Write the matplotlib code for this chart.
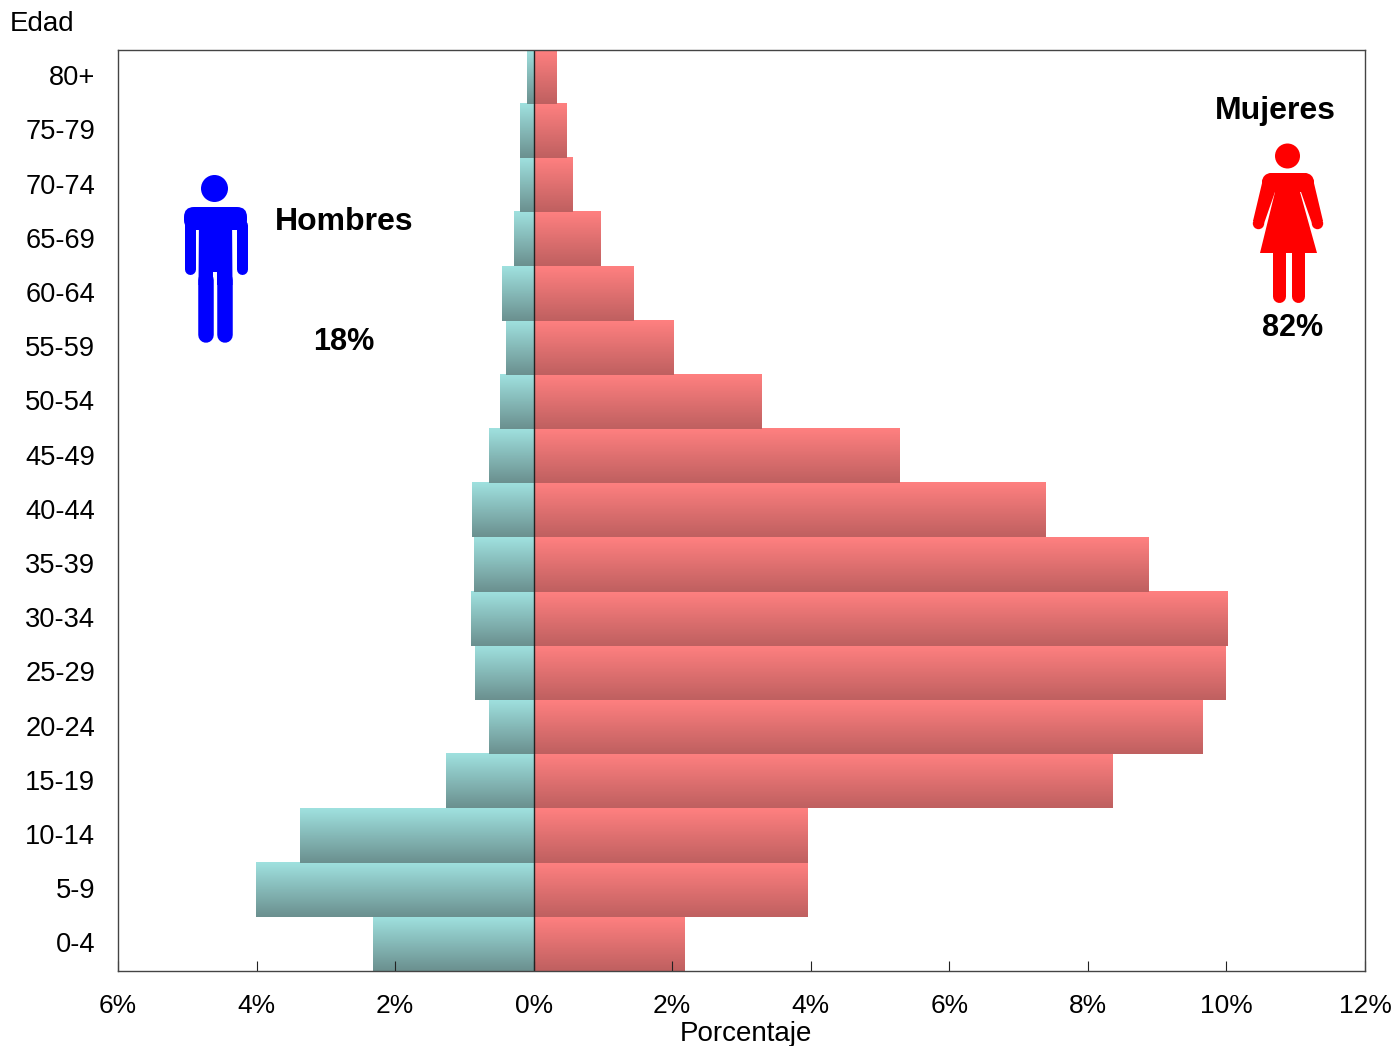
import numpy as np
import matplotlib
matplotlib.use('Agg')
import matplotlib.pyplot as plt
from matplotlib.colors import LinearSegmentedColormap
from matplotlib.patches import Circle, Polygon, FancyBboxPatch
from matplotlib.transforms import ScaledTranslation

plt.rcParams['font.family'] = ['Liberation Sans', 'DejaVu Sans']

ages = ['0-4', '5-9', '10-14', '15-19', '20-24', '25-29', '30-34', '35-39', '40-44',
        '45-49', '50-54', '55-59', '60-64', '65-69', '70-74', '75-79', '80+']
men = [2.32, 4.01, 3.38, 1.26, 0.64, 0.84, 0.91, 0.86, 0.89,
       0.65, 0.48, 0.40, 0.46, 0.29, 0.20, 0.20, 0.10]
women = [2.17, 3.95, 3.95, 8.35, 9.65, 9.98, 10.01, 8.87, 7.38,
         5.28, 3.29, 2.02, 1.44, 0.96, 0.56, 0.47, 0.33]
xticks = [-6, -4, -2, 0, 2, 4, 6, 8, 10, 12]

W, H = 1394, 1046
fig = plt.figure(figsize=(W / 100, H / 100), dpi=100)
ax = fig.add_axes([118 / W, 1 - 971 / H, (1365 - 118) / W, (971 - 49.6) / H])

cmap_m = LinearSegmentedColormap.from_list('m', ['#9fe1df', '#6b908f'])
cmap_w = LinearSegmentedColormap.from_list('w', ['#ff8080', '#bf6060'])
grad = np.linspace(0, 1, 64).reshape(-1, 1)


def shaded(bars, cmap):
    # each bar gets its own vertical gradient, top light, bottom dark
    for b in bars:
        x0, x1 = sorted([b.get_x(), b.get_x() + b.get_width()])
        y0, y1 = b.get_y(), b.get_y() + b.get_height()
        b.set_visible(False)
        ax.imshow(grad, cmap=cmap, aspect='auto', extent=(x0, x1, y0, y1),
                  origin='upper', vmin=0, vmax=1, zorder=2, interpolation='bilinear')


y = np.arange(len(ages))
shaded(ax.barh(y, -np.array(men), height=1.0), cmap_m)
shaded(ax.barh(y, women, height=1.0), cmap_w)

ax.set_xlim(-6, 12)
ax.set_ylim(-0.5, len(ages) - 0.5)
ax.axvline(0, color='#222222', lw=1.0, zorder=3)

ax.set_xticks(xticks)
ax.set_xticklabels(['%d%%' % abs(t) for t in xticks], fontsize=19)
ax.set_yticks(y)
ax.set_yticklabels(ages, fontsize=19.6)
ax.tick_params(axis='x', direction='in', length=7, width=0.8, pad=16.5, color='#222222', top=False)
ax.tick_params(axis='y', length=0, pad=16.5)
ax.set_axisbelow(False)
for s in ax.spines.values():
    s.set_linewidth(1.0)
    s.set_color('#444444')
    s.set_zorder(5)
nudge = ScaledTranslation(0, 1.5 / 100, fig.dpi_scale_trans)
for lab in ax.get_yticklabels():
    lab.set_va('center_baseline')
    lab.set_transform(lab.get_transform() + nudge)

fig.text(10 / W, 1 - 24 / H, 'Edad', fontsize=20, ha='left', va='center')
fig.text(746 / W, 1 - 1034 / H, 'Porcentaje', fontsize=20, ha='center', va='center')

# overlay in pixel coordinates for the labels and the two figures
ov = fig.add_axes([0, 0, 1, 1], facecolor='none')
ov.set_xlim(0, W)
ov.set_ylim(H, 0)
ov.axis('off')

for tx, ty, s, fs in [(344, 222, 'Hombres', 23), (344, 342, '18%', 22),
                      (1275, 111, 'Mujeres', 23), (1293, 328, '82%', 22)]:
    ov.text(tx, ty, s, fontsize=fs, fontweight='bold', ha='center', va='center')


def limb(p, q, w, color):
    ov.plot([p[0], q[0]], [p[1], q[1]], color=color, lw=w * 0.72, solid_capstyle='round')


# man
c = '#0000ff'
ov.add_patch(Circle((214.5, 188.5), 13.5, color=c, lw=0))
ov.add_patch(FancyBboxPatch((194, 217), 43, 3, boxstyle='round,pad=10,rounding_size=10', color=c, lw=0))
ov.add_patch(Polygon([(199, 215), (232, 215), (232.5, 285), (217, 285), (217, 272), (213, 272),
                      (213, 285), (198.5, 285)], color=c, lw=0))
limb((189.5, 225), (189.5, 268.5), 11, c)
limb((241.5, 225), (241.5, 268.5), 11, c)
limb((206, 280), (206, 335), 15.5, c)
limb((225, 280), (225, 335), 15.5, c)

# woman
c = '#ff0000'
ov.add_patch(Circle((1287.5, 156), 12.5, color=c, lw=0))
ov.add_patch(Polygon([(1271, 173), (1304, 173), (1300, 192), (1317, 253), (1260, 253), (1275, 192)],
                     color=c, lw=0))
for sx in (0, 1):
    def mx(v):
        return 2576 - v if sx else v
    ov.add_patch(Circle((mx(1271), 182), 9, color=c, lw=0))
    ov.add_patch(Polygon([(mx(1271), 173), (mx(1263), 179), (mx(1253), 221), (mx(1263.5), 225),
                          (mx(1275), 192), (mx(1280), 192)], color=c, lw=0))
    ov.add_patch(Circle((mx(1258.5), 223.5), 5.7, color=c, lw=0))
limb((1278.5, 250), (1278.5, 296), 13, c)
limb((1298, 250), (1298, 296), 13, c)

fig.savefig('out.png', dpi=100)
